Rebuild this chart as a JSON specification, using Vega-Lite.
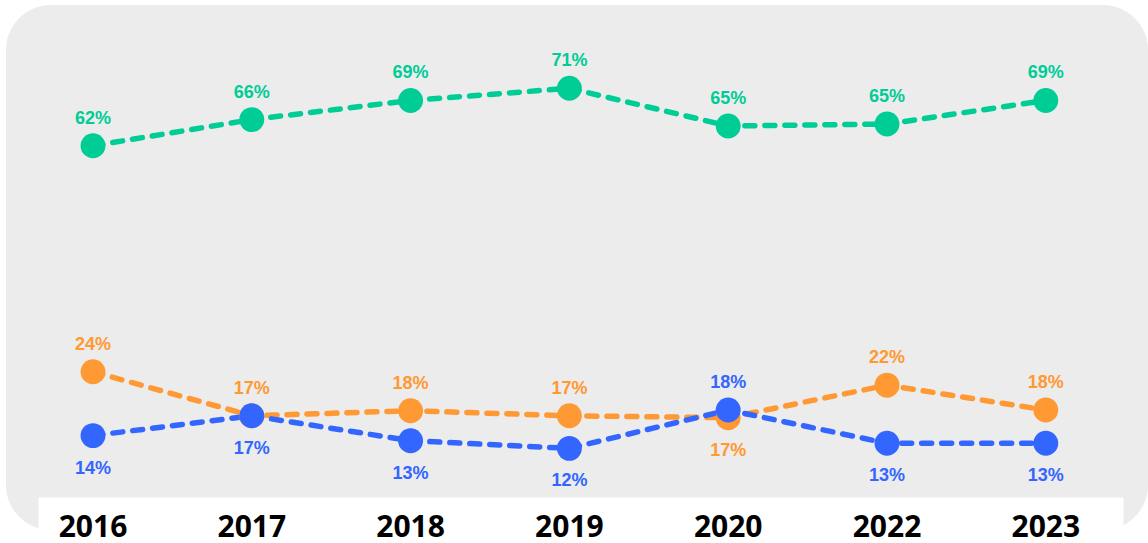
{
  "$schema": "https://vega.github.io/schema/vega-lite/v6.json",
  "width": 1142,
  "height": 525,
  "autosize": {"type": "none"},
  "padding": {"left": 6, "top": 5, "right": 0, "bottom": 13},
  "background": "#ffffff",
  "config": {"view": {"fill": "#ececec", "stroke": null, "cornerRadius": 45}},
  "data": {
    "values": [
      {"series": "s1", "year": "2016", "value": 0.620},
      {"series": "s1", "year": "2017", "value": 0.661},
      {"series": "s1", "year": "2018", "value": 0.691},
      {"series": "s1", "year": "2019", "value": 0.710},
      {"series": "s1", "year": "2020", "value": 0.651},
      {"series": "s1", "year": "2022", "value": 0.654},
      {"series": "s1", "year": "2023", "value": 0.691},
      {"series": "s2", "year": "2016", "value": 0.240},
      {"series": "s2", "year": "2017", "value": 0.171},
      {"series": "s2", "year": "2018", "value": 0.179},
      {"series": "s2", "year": "2019", "value": 0.171},
      {"series": "s2", "year": "2020", "value": 0.168},
      {"series": "s2", "year": "2022", "value": 0.219},
      {"series": "s2", "year": "2023", "value": 0.180},
      {"series": "s3", "year": "2016", "value": 0.140},
      {"series": "s3", "year": "2017", "value": 0.171},
      {"series": "s3", "year": "2018", "value": 0.132},
      {"series": "s3", "year": "2019", "value": 0.120},
      {"series": "s3", "year": "2020", "value": 0.180},
      {"series": "s3", "year": "2022", "value": 0.128},
      {"series": "s3", "year": "2023", "value": 0.128}
    ]
  },
  "layer": [
    {
      "mark": {"type": "line", "strokeDash": [10, 10], "strokeCap": "round", "strokeWidth": 5.5},
      "encoding": {
        "x": {
          "field": "year", "type": "ordinal", "sort": null,
          "scale": {"type": "point", "domain": ["2016", "2017", "2018", "2019", "2020", "2022", "2023"], "range": [32, 1117], "padding": 0.4163, "align": 0.416},
          "axis": {"title": null, "orient": "bottom", "offset": -5, "domain": true, "domainColor": "#ffffff", "domainWidth": 56, "domainCap": "butt", "ticks": false, "labels": false, "grid": false, "zindex": 0}
        },
        "y": {
          "field": "value", "type": "quantitative",
          "scale": {"domain": [0, 0.3, 0.5, 1], "range": [519.9, 328.5, 217.3, -101.7], "nice": false, "zero": false},
          "axis": null
        },
        "color": {"field": "series", "type": "nominal", "scale": {"domain": ["s1", "s2", "s3"], "range": ["#00CC96", "#FF9933", "#3366FF"]}, "legend": null}
      }
    },
    {
      "mark": {"type": "circle", "size": 620, "opacity": 1},
      "encoding": {
        "x": {"field": "year", "type": "ordinal", "sort": null},
        "y": {"field": "value", "type": "quantitative"},
        "color": {"field": "series", "type": "nominal", "legend": null}
      }
    },
    {
      "transform": [{"filter": "datum.series == 's1' || (datum.series == 's2' && datum.year != '2020') || (datum.series == 's3' && datum.year == '2020')"}],
      "mark": {"type": "text", "font": "Liberation Sans", "fontWeight": "bold", "fontSize": 18, "baseline": "alphabetic", "dy": -22},
      "encoding": {
        "x": {"field": "year", "type": "ordinal", "sort": null},
        "y": {"field": "value", "type": "quantitative"},
        "text": {"field": "value", "type": "quantitative", "format": ".0%"},
        "color": {"field": "series", "type": "nominal", "legend": null}
      }
    },
    {
      "transform": [{"filter": "!(datum.series == 's1' || (datum.series == 's2' && datum.year != '2020') || (datum.series == 's3' && datum.year == '2020'))"}],
      "mark": {"type": "text", "font": "Liberation Sans", "fontWeight": "bold", "fontSize": 18, "baseline": "alphabetic", "dy": 38},
      "encoding": {
        "x": {"field": "year", "type": "ordinal", "sort": null},
        "y": {"field": "value", "type": "quantitative"},
        "text": {"field": "value", "type": "quantitative", "format": ".0%"},
        "color": {"field": "series", "type": "nominal", "legend": null}
      }
    },
    {
      "transform": [{"filter": "datum.series == 's1'"}],
      "mark": {"type": "text", "font": "Open Sans", "fontWeight": "bold", "fontSize": 30, "baseline": "alphabetic", "color": "#000000", "dy": 12},
      "encoding": {
        "x": {"field": "year", "type": "ordinal", "sort": null},
        "y": {"datum": 0, "type": "quantitative"},
        "text": {"field": "year", "type": "nominal"}
      }
    }
  ]
}
